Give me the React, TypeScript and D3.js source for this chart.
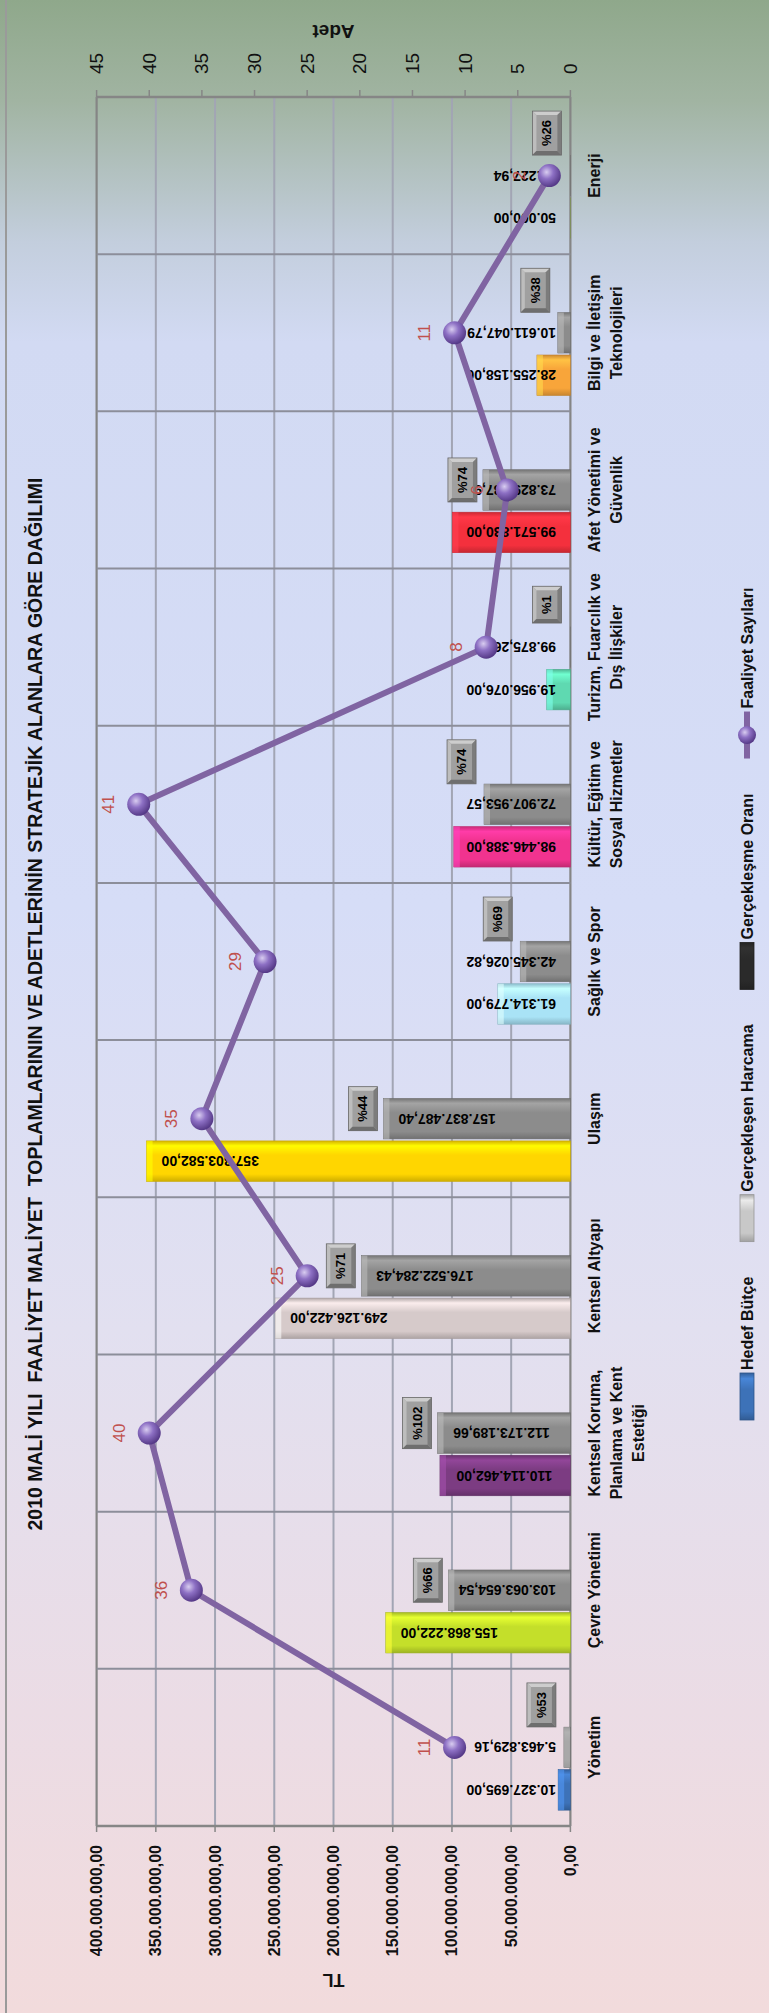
import React from 'react';
import * as d3 from 'd3';

const categories = [
  'Yönetim',
  'Çevre Yönetimi',
  'Kentsel Koruma,\nPlanlama ve Kent\nEstetiği',
  'Kentsel Altyapı',
  'Ulaşım',
  'Sağlık ve Spor',
  'Kültür, Eğitim ve\nSosyal Hizmetler',
  'Turizm, Fuarcılık ve\nDış İlişkiler',
  'Afet Yönetimi ve\nGüvenlik',
  'Bilgi ve İletişim\nTeknolojileri',
  'Enerji',
];
const hedefButce = [10327695.0, 155868222.0, 110114462.0, 249126422.0, 357803582.0, 61314779.0, 98446388.0, 19956076.0, 99571830.0, 28255158.0, 50000.0];
const gerceklesenHarcama = [5463829.16, 103063654.54, 112173189.66, 176522284.43, 157837487.4, 42345026.82, 72907953.57, 99875.26, 73829287.9, 10611047.79, 13227.94];
const gerceklesmeOrani = [53, 66, 102, 71, 44, 69, 74, 1, 74, 38, 26];
const faaliyetSayilari = [11, 36, 40, 25, 35, 29, 41, 8, 6, 11, 2];
const tlTicks = [0, 50e6, 100e6, 150e6, 200e6, 250e6, 300e6, 350e6, 400e6];
const adetTicks = [0, 5, 10, 15, 20, 25, 30, 35, 40, 45];
const seriesNames = ['Hedef Bütçe', 'Gerçekleşen Harcama', 'Gerçekleşme Oranı', 'Faaliyet Sayıları'];
const titleText = '2010 MALİ YILI  FAALİYET MALİYET  TOPLAMLARININ VE ADETLERİNİN STRATEJİK ALANLARA GÖRE DAĞILIMI';
const hedefColors = ['#3d72b8', '#c4df2a', '#7c3c82', '#d6caca', '#ffd600', '#a9e3f6', '#f1338f', '#5fd9b1', '#f4303d', '#f8a53a', '#9bbb59'];
const grayColor = '#8c8c8c';
const lineColor = '#8064a2';

const W = 769, H = 2013;
const FONT = '"Liberation Sans", Arial, sans-serif';

const trLocale = d3.formatLocale({ decimal: ',', thousands: '.', grouping: [3], currency: ['', ''] });
const fmt = trLocale.format(',.2f');

function App() {
  const ref = React.useRef<SVGSVGElement>(null);
  React.useEffect(() => {
    const svg = d3.select(ref.current);
    svg.selectAll('*').remove();
    const defs = svg.append('defs');

    // background
    const bg = defs.append('linearGradient').attr('id', 'bg').attr('gradientUnits', 'userSpaceOnUse')
      .attr('x1', 0).attr('y1', 0).attr('x2', 0).attr('y2', H);
    [[0, '#8fa88b'], [0.05, '#a1b4a2'], [0.12, '#c3cedd'], [0.17, '#d2daf3'], [0.45, '#d6ddf7'], [0.66, '#e2e0f0'], [0.85, '#ebdce5'], [1, '#f2dbdc']]
      .forEach(([o, c]) => bg.append('stop').attr('offset', o as number).attr('stop-color', c as string));
    svg.append('rect').attr('x', 0).attr('y', 0).attr('width', W).attr('height', H).attr('fill', 'url(#bg)');
    svg.append('line').attr('x1', 6).attr('x2', 6).attr('y1', 0).attr('y2', H).attr('stroke', '#9a9a9a').attr('stroke-width', 2);

    const BASE_X = 570.4, MAX_X = 96.6, TOP_Y = 97, BOT_Y = 1826;
    const xTL = d3.scaleLinear().domain([0, 400e6]).range([BASE_X, MAX_X]);
    const xAdet = d3.scaleLinear().domain([0, 45]).range([BASE_X, MAX_X]);
    const yCat = d3.scaleBand<string>().domain(categories).range([BOT_Y, TOP_Y]);
    const ySub = d3.scaleBand<string>().domain(['oran', 'gercek', 'hedef']).range([0, yCat.bandwidth()]).paddingInner(0).paddingOuter(0.35);
    const center = (c: string) => (yCat(c) as number) + yCat.bandwidth() / 2;

    const g = svg.append('g');

    // gridlines
    tlTicks.forEach((t) => {
      const edge = t === 0 || t === 400e6;
      g.append('line').attr('x1', xTL(t)).attr('x2', xTL(t)).attr('y1', TOP_Y).attr('y2', BOT_Y)
        .attr('stroke', edge ? '#858585' : '#a2a5b4').attr('stroke-width', edge ? 2.2 : 2);
    });
    // category separators
    const bounds = categories.map((c) => yCat(c) as number).concat([BOT_Y]);
    bounds.forEach((b) => {
      g.append('line').attr('x1', MAX_X).attr('x2', BASE_X).attr('y1', b).attr('y2', b)
        .attr('stroke', '#8c8e9a').attr('stroke-width', 2);
    });
    // Adet axis (top)
    g.append('line').attr('x1', MAX_X).attr('x2', BASE_X).attr('y1', TOP_Y).attr('y2', TOP_Y).attr('stroke', '#868686').attr('stroke-width', 2.5);
    adetTicks.forEach((t) => {
      g.append('line').attr('x1', xAdet(t)).attr('x2', xAdet(t)).attr('y1', TOP_Y - 7).attr('y2', TOP_Y).attr('stroke', '#868686').attr('stroke-width', 1.5);
      g.append('text').attr('transform', `translate(${xAdet(t)},74) rotate(-90)`)
        .attr('text-anchor', 'start').attr('dominant-baseline', 'central')
        .attr('font-family', FONT).attr('font-size', 19).attr('fill', '#111').text(String(t));
    });
    // TL axis (bottom)
    g.append('line').attr('x1', MAX_X).attr('x2', BASE_X).attr('y1', BOT_Y).attr('y2', BOT_Y).attr('stroke', '#868686').attr('stroke-width', 2.5);
    tlTicks.forEach((t) => {
      g.append('line').attr('x1', xTL(t)).attr('x2', xTL(t)).attr('y1', BOT_Y).attr('y2', BOT_Y + 6).attr('stroke', '#868686').attr('stroke-width', 1.5);
      g.append('text').attr('transform', `translate(${xTL(t)},1845) rotate(-90)`)
        .attr('text-anchor', 'end').attr('dominant-baseline', 'central')
        .attr('font-family', FONT).attr('font-weight', 'bold').attr('font-size', 16).attr('fill', '#111').text(fmt(t));
    });

    // gradients for bars
    const makeGrad = (id: string, color: string) => {
      const c = d3.color(color)!;
      const gr = defs.append('linearGradient').attr('id', id).attr('x1', 0).attr('y1', 0).attr('x2', 0).attr('y2', 1);
      gr.append('stop').attr('offset', 0).attr('stop-color', c.darker(0.5).formatHex());
      gr.append('stop').attr('offset', 0.12).attr('stop-color', c.brighter(0.45).formatHex());
      gr.append('stop').attr('offset', 0.35).attr('stop-color', c.formatHex());
      gr.append('stop').attr('offset', 0.82).attr('stop-color', c.formatHex());
      gr.append('stop').attr('offset', 1).attr('stop-color', c.darker(0.6).formatHex());
    };
    hedefColors.forEach((c, i) => makeGrad(`hg${i}`, c));
    makeGrad('gg', grayColor);
    makeGrad('lgGray', '#c8c8c8');
    makeGrad('lgBlack', '#2a2a2a');
    const sph = defs.append('radialGradient').attr('id', 'sph').attr('cx', '38%').attr('cy', '35%').attr('r', '65%');
    sph.append('stop').attr('offset', 0).attr('stop-color', '#d8ccf0');
    sph.append('stop').attr('offset', 0.45).attr('stop-color', '#8d70c4');
    sph.append('stop').attr('offset', 1).attr('stop-color', '#563a88');

    const bars = g.append('g');
    const drawBar = (v: number, y: number, h: number, fillId: string, color: string) => {
      const x = xTL(v);
      const w = BASE_X - x;
      bars.append('rect').attr('x', x).attr('y', y).attr('width', w).attr('height', h)
        .attr('fill', `url(#${fillId})`).attr('stroke', d3.color(color)!.darker(0.7).formatHex()).attr('stroke-width', 0.6);
      if (w > 1) {
        bars.append('rect').attr('x', x).attr('y', y).attr('width', Math.min(6, w)).attr('height', h)
          .attr('fill', d3.color(color)!.brighter(0.8).formatHex()).attr('opacity', 0.6);
      }
    };
    const labelW = (s: string, fs: number) => {
      let u = 0;
      for (const ch of s) u += /[0-9]/.test(ch) ? 0.556 : 0.278;
      return u * fs;
    };
    const valueLabel = (v: number, yc: number) => {
      const s = fmt(v);
      const w = labelW(s, 14);
      const right = Math.min(556, xTL(v) + 15 + w);
      g.append('text').attr('transform', `translate(${right},${yc}) rotate(180)`)
        .attr('text-anchor', 'start').attr('dominant-baseline', 'central')
        .attr('font-family', FONT).attr('font-weight', 'bold').attr('font-size', 14).attr('fill', '#000').text(s);
    };

    categories.forEach((c, i) => {
      const y0 = yCat(c) as number;
      const bh = ySub.bandwidth();
      const yH = y0 + (ySub('hedef') as number);
      const yG = y0 + (ySub('gercek') as number);
      drawBar(hedefButce[i], yH + 1, bh - 2, `hg${i}`, hedefColors[i]);
      drawBar(gerceklesenHarcama[i], yG + 1, bh - 2, 'gg', grayColor);
    });
    categories.forEach((c, i) => {
      const y0 = yCat(c) as number;
      const bh = ySub.bandwidth();
      valueLabel(hedefButce[i], y0 + (ySub('hedef') as number) + bh / 2);
      valueLabel(gerceklesenHarcama[i], y0 + (ySub('gercek') as number) + bh / 2);
    });

    // ratio boxes (bevelled)
    categories.forEach((c, i) => {
      const gv = gerceklesenHarcama[i];
      const s = `%${gerceklesmeOrani[i]}`;
      const fs = 13;
      let tl = 0;
      for (const ch of s) tl += ch === '%' ? 0.889 : 0.556;
      const bhh = tl * fs + 18;
      const bw = 29;
      let cy: number, right: number;
      if (gv >= 73e6) {
        cy = center(c) - 10;
        right = xTL(gv) - 6;
      } else {
        cy = (yCat(c) as number) + (ySub('oran') as number) + ySub.bandwidth() / 2;
        right = Math.min(xTL(gv) - 8, BASE_X - 9);
      }
      const bx = right - bw, by = cy - bhh / 2;
      const e = 4;
      const x0 = bx, x1 = bx + bw, y0 = by, y1 = by + bhh;
      g.append('rect').attr('x', x0).attr('y', y0).attr('width', bw).attr('height', bhh).attr('fill', '#a0a0a0');
      g.append('polygon').attr('points', `${x0},${y0} ${x1},${y0} ${x1 - e},${y0 + e} ${x0 + e},${y0 + e}`).attr('fill', '#cdcdcd');
      g.append('polygon').attr('points', `${x0},${y0} ${x0 + e},${y0 + e} ${x0 + e},${y1 - e} ${x0},${y1}`).attr('fill', '#bdbdbd');
      g.append('polygon').attr('points', `${x1},${y0} ${x1},${y1} ${x1 - e},${y1 - e} ${x1 - e},${y0 + e}`).attr('fill', '#7c7c7c');
      g.append('polygon').attr('points', `${x0},${y1} ${x1},${y1} ${x1 - e},${y1 - e} ${x0 + e},${y1 - e}`).attr('fill', '#6e6e6e');
      g.append('rect').attr('x', x0).attr('y', y0).attr('width', bw).attr('height', bhh)
        .attr('fill', 'none').attr('stroke', '#6a6a6a').attr('stroke-width', 0.8);
      g.append('text').attr('transform', `translate(${bx + bw / 2},${cy}) rotate(-90)`)
        .attr('text-anchor', 'middle').attr('dominant-baseline', 'central')
        .attr('font-family', FONT).attr('font-weight', 'bold').attr('font-size', fs).attr('fill', '#000').text(s);
    });

    // line
    const pts = categories.map((c, i) => [xAdet(faaliyetSayilari[i]), center(c)] as [number, number]);
    g.append('path').attr('d', d3.line()(pts)).attr('fill', 'none').attr('stroke', lineColor)
      .attr('stroke-width', 6).attr('stroke-linejoin', 'round');
    pts.forEach(([x, y], i) => {
      g.append('circle').attr('cx', x).attr('cy', y).attr('r', 11.5).attr('fill', 'url(#sph)');
      g.append('text').attr('transform', `translate(${x - 30},${y}) rotate(-90)`)
        .attr('text-anchor', 'middle').attr('dominant-baseline', 'central')
        .attr('font-family', FONT).attr('font-size', 17).attr('fill', '#c0504d').text(String(faaliyetSayilari[i]));
    });

    // category labels
    categories.forEach((c) => {
      const lines = c.split('\n');
      lines.forEach((ln, k) => {
        g.append('text').attr('transform', `translate(${594 + k * 22},${center(c)}) rotate(-90)`)
          .attr('text-anchor', 'middle').attr('dominant-baseline', 'central')
          .attr('font-family', FONT).attr('font-weight', 'bold').attr('font-size', 16).attr('fill', '#111').text(ln);
      });
    });

    // titles
    g.append('text').attr('transform', `translate(35,${1004}) rotate(-90)`)
      .attr('text-anchor', 'middle').attr('dominant-baseline', 'central').style('white-space', 'pre')
      .attr('font-family', FONT).attr('font-weight', 'bold').attr('font-size', 19.5).attr('fill', '#111').text(titleText);
    g.append('text').attr('transform', `translate(${(MAX_X + BASE_X) / 2},31) rotate(180)`)
      .attr('text-anchor', 'middle').attr('dominant-baseline', 'central')
      .attr('font-family', FONT).attr('font-weight', 'bold').attr('font-size', 19).attr('fill', '#111').text('Adet');
    g.append('text').attr('transform', `translate(${(MAX_X + BASE_X) / 2},1980) rotate(180)`)
      .attr('text-anchor', 'middle').attr('dominant-baseline', 'central')
      .attr('font-family', FONT).attr('font-weight', 'bold').attr('font-size', 18).attr('fill', '#111').text('TL');

    // legend
    const LX = 747;
    let cur = 1420;
    const symLen = 47;
    seriesNames.forEach((name, k) => {
      const s0 = cur - symLen;
      if (k === 3) {
        g.append('line').attr('x1', LX).attr('x2', LX).attr('y1', s0).attr('y2', cur).attr('stroke', lineColor).attr('stroke-width', 6);
        g.append('circle').attr('cx', LX).attr('cy', (s0 + cur) / 2).attr('r', 9).attr('fill', 'url(#sph)');
      } else {
        const fill = k === 0 ? 'url(#hg0)' : k === 1 ? 'url(#lgGray)' : 'url(#lgBlack)';
        const col = k === 0 ? hedefColors[0] : k === 1 ? '#c8c8c8' : '#2a2a2a';
        g.append('rect').attr('x', LX - 7).attr('y', s0).attr('width', 14).attr('height', symLen)
          .attr('fill', fill).attr('stroke', d3.color(col)!.darker(0.8).formatHex()).attr('stroke-width', 0.8);
      }
      const t = g.append('text').attr('transform', `translate(${LX},${s0 - 3}) rotate(-90)`)
        .attr('text-anchor', 'start').attr('dominant-baseline', 'central')
        .attr('font-family', FONT).attr('font-weight', 'bold').attr('font-size', 16).attr('fill', '#111').text(name);
      const len = (t.node() as SVGTextElement).getComputedTextLength();
      cur = s0 - 3 - len - 35;
    });
  }, []);
  return <svg ref={ref} width={W} height={H} style={{ position: 'absolute', left: 0, top: 0, display: 'block' }} />;
}

export default App;
